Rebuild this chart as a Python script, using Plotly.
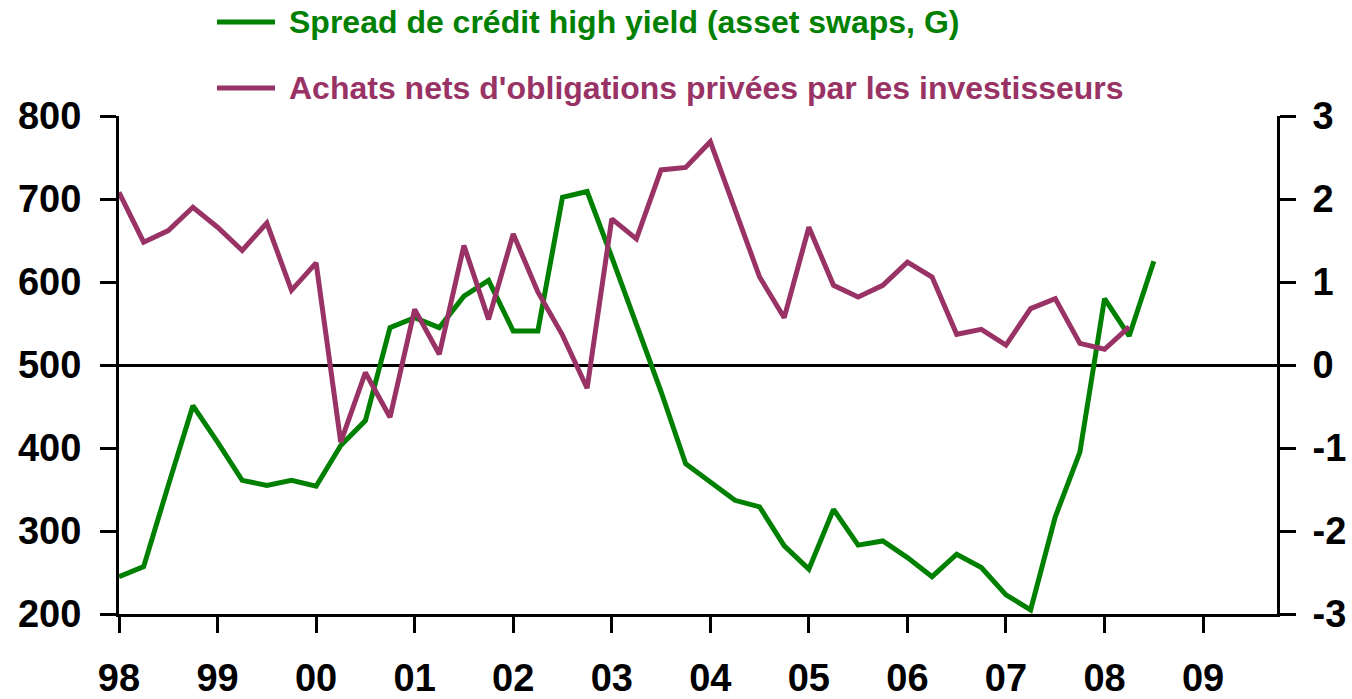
import plotly.graph_objects as go

# ---- data (quarterly, starting 1998 Q1) ----
start_year = 1998
spread_hy = [245, 257, 355, 451,
             407, 361, 355, 361,
             354, 403, 433, 545,
             557, 545, 583, 602,
             541, 541, 702, 709,
             630, 550, 468, 381,
             359, 337, 329, 282,
             254, 326, 283, 288,
             268, 245, 272, 256,
             223, 205, 317, 395,
             580, 535, 625]
achats_nets = [2.08, 1.48, 1.62, 1.90,
               1.66, 1.38, 1.71, 0.90,
               1.23, -0.93, -0.09, -0.63,
               0.67, 0.13, 1.44, 0.55,
               1.58, 0.88, 0.36, -0.28,
               1.76, 1.52, 2.35, 2.38,
               2.69, 1.88, 1.06, 0.57,
               1.66, 0.96, 0.82, 0.96,
               1.24, 1.06, 0.37, 0.43,
               0.24, 0.68, 0.80, 0.26,
               0.19, 0.46]
year_ticks = list(range(1998, 2010))
year_labels = ["98", "99", "00", "01", "02", "03", "04", "05", "06", "07", "08", "09"]
left_ticks = [200, 300, 400, 500, 600, 700, 800]
right_ticks = [-3, -2, -1, 0, 1, 2, 3]
right_labels = ["-3", "-2", "-1", "0", "1", "2", "3"]
series_names = ["Spread de crédit high yield (asset swaps, G)",
                "Achats nets d'obligations privées par les investisseurs"]

x_spread = [start_year + i * 0.25 for i in range(len(spread_hy))]
x_achats = [start_year + i * 0.25 for i in range(len(achats_nets))]

GREEN = "#008000"
PURPLE = "#993366"
FONT = "Liberation Sans, Arial, sans-serif"

W, H = 1352, 699
ML, MR, MT, MB = 119, 75, 116, 85
PW = W - ML - MR
PH = H - MT - MB


def px_x(px):
    return (px - ML) / PW


def px_y(py):
    return (H - MB - py) / PH


fig = go.Figure()
fig.add_trace(go.Scatter(x=x_spread, y=spread_hy, mode="lines", name=series_names[0],
                         line=dict(color=GREEN, width=5), yaxis="y"))
fig.add_trace(go.Scatter(x=x_achats, y=achats_nets, mode="lines", name=series_names[1],
                         line=dict(color=PURPLE, width=5), yaxis="y2"))

tickfont = dict(family=FONT, size=38, color="black", weight="bold")

fig.update_layout(
    width=W, height=H,
    margin=dict(l=ML, r=MR, t=MT, b=MB),
    paper_bgcolor="white", plot_bgcolor="white",
    showlegend=False,
    xaxis=dict(range=[1998, 2009.75], tickvals=year_ticks, ticktext=year_labels,
               showgrid=False, zeroline=False, showline=True, linecolor="black", linewidth=3,
               ticks="outside", ticklen=16, tickwidth=3, tickcolor="black",
               tickfont=tickfont, ticklabelstandoff=12, automargin=False),
    yaxis=dict(range=[200, 800], tickvals=left_ticks, showgrid=False, zeroline=False,
               showline=True, linecolor="black", linewidth=3,
               ticks="outside", ticklen=16, tickwidth=3, tickcolor="black",
               tickfont=tickfont, ticklabelstandoff=11, automargin=False),
    yaxis2=dict(range=[-3, 3], tickvals=right_ticks, ticktext=right_labels,
                overlaying="y", side="right", showgrid=False,
                zeroline=True, zerolinecolor="black", zerolinewidth=3,
                showline=True, linecolor="black", linewidth=3,
                ticks="outside", ticklen=16, tickwidth=3, tickcolor="black",
                tickfont=tickfont, ticklabelstandoff=9, automargin=False),
)

# manual legend (two rows above the plot)
legend_rows = [(22, GREEN, series_names[0]), (88, PURPLE, series_names[1])]
for py, col, name in legend_rows:
    fig.add_shape(type="line", xref="paper", yref="paper",
                  x0=px_x(217), x1=px_x(275), y0=px_y(py), y1=px_y(py),
                  line=dict(color=col, width=5))
    fig.add_annotation(xref="paper", yref="paper", x=px_x(287), y=px_y(py),
                       xanchor="left", yanchor="middle", showarrow=False,
                       text=name, font=dict(family=FONT, size=32, color=col, weight="bold"))

fig.write_html("out.html", config={"displayModeBar": False},
               post_script="document.body.style.margin='0';document.body.style.overflow='hidden';")
